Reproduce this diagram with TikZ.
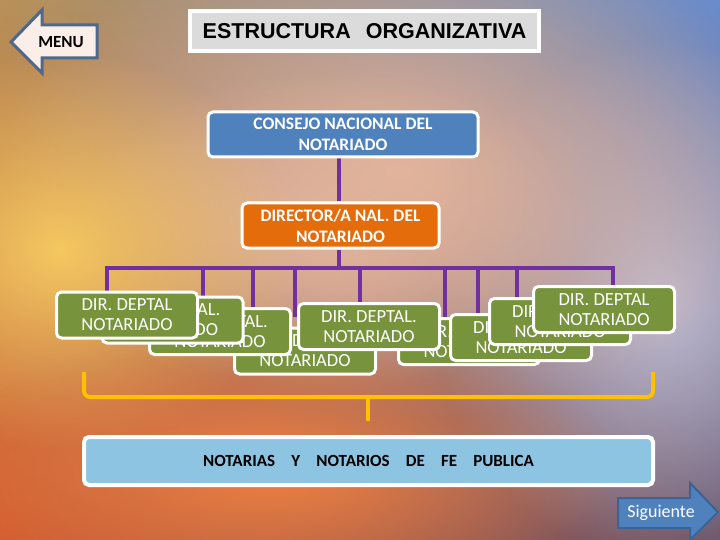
\documentclass[tikz,border=0pt]{standalone}
\usepackage{fontspec}
\setmainfont{Carlito}
\newfontfamily\titlefont{Liberation Sans}
\usetikzlibrary{fadings,shadings}

\definecolor{bgUL}{HTML}{B89058}
\definecolor{bgUR}{HTML}{6A8CCC}
\definecolor{bgLL}{HTML}{D45E30}
\definecolor{bgLR}{HTML}{6A5468}
\definecolor{glowYellow}{HTML}{F5C860}
\definecolor{glowPeach}{HTML}{E2B49C}
\definecolor{glowOrange}{HTML}{EE8040}
\definecolor{glowGrey}{HTML}{C0BCD0}
\definecolor{consejoBlue}{HTML}{4F81BD}
\definecolor{dirOrange}{HTML}{E46C0A}
\definecolor{deptGreen}{HTML}{77933C}
\definecolor{notBlue}{HTML}{8CC4E2}
\definecolor{linkPurple}{HTML}{7030A0}
\definecolor{braceGold}{HTML}{FFC000}
\definecolor{menuFill}{HTML}{FBEDE8}
\definecolor{menuLine}{HTML}{4D6A8C}
\definecolor{sigLine}{HTML}{3B6496}

\tikzfading[name=glow, inner color=transparent!0, outer color=transparent!100]

\pgfdeclarelayer{back}
\pgfdeclarelayer{links}
\pgfsetlayers{back,links,main}

\begin{document}
\begin{tikzpicture}[x=1pt,y=-1pt,
  box/.style={draw=white, line width=3pt, rounded corners=5pt,
    text=white, align=center, inner sep=2pt},
  deptbox/.style={box, fill=deptGreen, minimum width=141pt, minimum height=46pt,
    font=\fontsize{18.5}{20}\selectfont},
  link/.style={draw=linkPurple, line width=4pt},
  brace/.style={draw=braceGold, line width=4pt}
  ]
\useasboundingbox (0,0) rectangle (720,540);

%% Background
\begin{pgfonlayer}{back}
\shade[upper left=bgUL, upper right=bgUR, lower left=bgLL, lower right=bgLR]
  (0,0) rectangle (720,540);
\fill[glowGrey, path fading=glow] (660,300) ellipse (230 and 260);
\fill[glowPeach, path fading=glow] (400,170) ellipse (400 and 250);
\fill[glowPeach, path fading=glow] (330,230) ellipse (260 and 160);
\fill[glowYellow, path fading=glow] (60,250) ellipse (240 and 200);
\fill[glowOrange, path fading=glow] (280,470) ellipse (340 and 140);
\node[deptbox] (dD) at (305,351) {DIR. DEPTAL.\\NOTARIADO};
\end{pgfonlayer}

%% Menu and title
\filldraw[fill=menuFill, draw=menuLine, line width=3pt, line join=miter]
  (11,42) -- (42,10) -- (42,25) -- (97,25) -- (97,58) -- (42,58) -- (42,73) -- cycle;
\node (menu) at (61,42) {\fontsize{17}{17}\selectfont\bfseries MENU};
\node[draw=white, line width=4pt, fill=black!14, minimum width=349pt,
  minimum height=40pt] (title) at (364.5,31)
  {\titlefont\bfseries\fontsize{21.5}{22}\selectfont ESTRUCTURA\hspace{0.7em}ORGANIZATIVA};

%% Top of the chart
\node[box, fill=consejoBlue, minimum width=270pt, minimum height=45pt,
  font=\fontsize{17.5}{21}\selectfont\bfseries] (consejo) at (343,134.5)
  {CONSEJO NACIONAL DEL\\NOTARIADO};
\node[box, fill=dirOrange, minimum width=197pt, minimum height=45pt,
  font=\fontsize{17.5}{21}\selectfont\bfseries] (director) at (340.5,225.5)
  {DIRECTOR/A NAL. DEL\\NOTARIADO};

%% Departmental offices
\node[deptbox] (dC) at (220,331.5) {DIR. DEPTAL.\\NOTARIADO};
\node[deptbox] (dB) at (172.5,320) {DIR. DEPTAL.\\NOTARIADO};
\node[deptbox] (dA) at (127,315) {DIR. DEPTAL\\NOTARIADO};
\node[deptbox] (dF) at (469,341.5) {DIR. DEPTAL.\\NOTARIADO};
\node[deptbox] (dE) at (369,326.5) {DIR. DEPTAL.\\NOTARIADO};
\node[deptbox] (dG) at (521,337.5) {DIR. DEPTAL.\\NOTARIADO};
\node[deptbox] (dH) at (560,321.5) {DIR. DEPTAL.\\NOTARIADO};
\node[deptbox] (dI) at (604,309.5) {DIR. DEPTAL\\NOTARIADO};

\coordinate (bus) at (339,268);
\foreach \n/\x in {A/107,B/203,C/253,D/295,E/360,F/445,G/478,H/517,I/613}
  \coordinate (b\n) at (\x,268);

\begin{pgfonlayer}{links}
\draw[link] (consejo.south -| bus) -- (director.north -| bus);
\draw[link] (director.south -| bus) -- (bus);
\draw[link, line cap=rect] (bA) -- (bI);
\foreach \n in {A,B,C,E,F,G,H,I}
  \draw[link] (b\n) -- (b\n |- d\n.north);
\draw[link] (bD) -- ([yshift=10pt]bD |- dD.north);
\end{pgfonlayer}

%% Brace and bottom box
\coordinate (braceL) at (84,372);
\coordinate (braceR) at (653,372);
\coordinate (braceM) at (368,397);
\draw[brace, rounded corners=6pt] (braceL) -- (braceL |- braceM) -- (braceR |- braceM) -- (braceR);
\draw[brace] (braceM) -- ++(0,24);
\node[box, fill=notBlue, text=black, line width=4pt, minimum width=569pt,
  minimum height=48pt, font=\fontsize{17}{19}\selectfont\bfseries] (notarias) at (368.5,461)
  {NOTARIAS\hspace{0.95em}Y\hspace{0.95em}NOTARIOS\hspace{0.95em}DE\hspace{0.95em}FE\hspace{0.95em}PUBLICA};

%% Next button
\filldraw[fill=consejoBlue, draw=sigLine, line width=2pt, line join=miter]
  (618,498) -- (690,498) -- (690,483) -- (718,512) -- (690,540) -- (690,528) -- (618,528) -- cycle;
\node[text=white] (siguiente) at (661,513) {\fontsize{18}{18}\selectfont Siguiente};
\end{tikzpicture}
\end{document}
